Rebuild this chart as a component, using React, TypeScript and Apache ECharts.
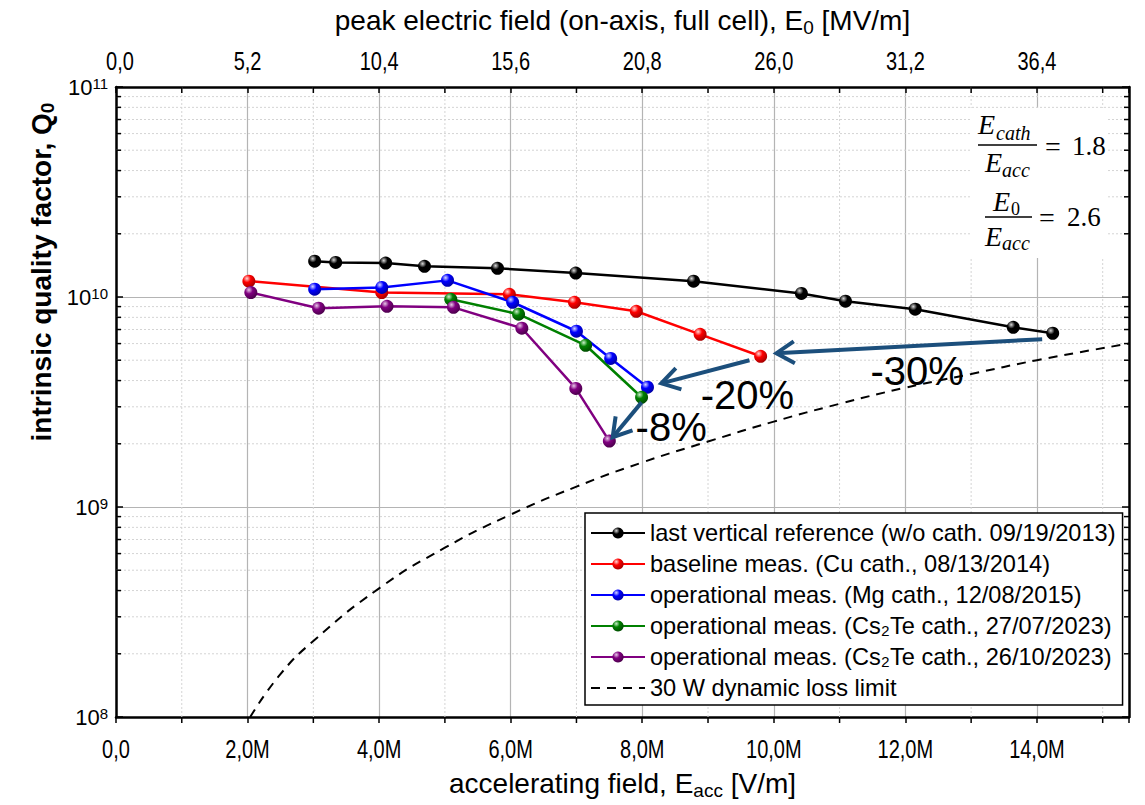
import React, { useEffect, useRef } from 'react';
import * as echarts from 'echarts';

// ---------- data ----------
const X_MIN = 0;
const X_MAX = 15.4; // Eacc in units of 1e6 V/m
const X_STEP = 2;
const E0_RATIO = 2.6;

const refX = [3.02, 3.34, 4.10, 4.69, 5.80, 6.99, 8.78, 10.42, 11.09, 12.15, 13.64, 14.24];
const refQ = [1.48e10, 1.46e10, 1.45e10, 1.40e10, 1.37e10, 1.30e10, 1.19e10, 1.04e10, 9.55e9, 8.75e9, 7.17e9, 6.72e9];

const cuX = [2.02, 4.04, 5.98, 6.97, 7.91, 8.88, 9.80];
const cuQ = [1.19e10, 1.05e10, 1.03e10, 9.44e9, 8.55e9, 6.64e9, 5.22e9];

const mgX = [3.02, 4.04, 5.04, 6.03, 7.00, 7.52, 8.08];
const mgQ = [1.09e10, 1.11e10, 1.20e10, 9.44e9, 6.87e9, 5.10e9, 3.72e9];

const cs1X = [5.09, 6.12, 7.14, 7.99];
const cs1Q = [9.75e9, 8.28e9, 5.89e9, 3.33e9];

const cs2X = [2.05, 3.08, 4.12, 5.13, 6.17, 6.99, 7.50];
const cs2Q = [1.05e10, 8.84e9, 9.03e9, 8.93e9, 7.10e9, 3.67e9, 2.06e9];

const limX = [2.04, 2.5, 3, 4, 5, 6, 7, 8, 9, 10, 11, 12, 13, 14, 15.4];
const limQ = [1.0e8, 1.6e8, 2.3e8, 4.1e8, 6.4e8, 9.2e8, 1.25e9, 1.63e9, 2.05e9, 2.55e9, 3.1e9, 3.7e9, 4.3e9, 5.0e9, 6.0e9];

const seriesNames = [
  'last vertical reference (w/o cath. 09/19/2013)',
  'baseline meas. (Cu cath., 08/13/2014)',
  'operational meas. (Mg cath., 12/08/2015)',
  'operational meas. (Cs\u2082Te cath., 27/07/2023)',
  'operational meas. (Cs\u2082Te cath., 26/10/2023)',
  '30 W dynamic loss limit',
];

// annotation arrows: [x1, q1, x2, q2] and labels
const arrowSegs = [
  [14.08, 6.30e9, 10.04, 5.40e9],
  [9.63, 5.00e9, 8.29, 3.88e9],
  [7.99, 3.15e9, 7.55, 2.15e9],
];
const arrowLabels = ['-30%', '-20%', '-8%'];
const arrowLabelPos = [
  [12.18, 4.42e9],
  [9.60, 3.40e9],
  [8.44, 2.40e9],
];

const decades = [8, 9, 10];
const minorMult = [2, 3, 4, 5, 6, 7, 8, 9];

const SANS = "'Liberation Sans', Arial, sans-serif";
const SERIF = "'Liberation Serif', 'DejaVu Serif', serif";
const ARROW_C = '#1c4f7c';

function ball(c: string, hi: string, dark: string) {
  return new echarts.graphic.RadialGradient(0.35, 0.3, 0.75, [
    { offset: 0, color: hi },
    { offset: 0.4, color: c },
    { offset: 1, color: dark },
  ]);
}

function mkSeries(name: string, xs: number[], qs: number[], color: string, hi: string, dark: string) {
  return {
    name,
    type: 'line',
    data: xs.map((x, i) => [x, qs[i]]),
    symbol: 'circle',
    symbolSize: 13,
    lineStyle: { color, width: 2.5 },
    itemStyle: { color: ball(color, hi, dark), borderWidth: 0 },
    z: 3,
  };
}

const fmtBottom = (v: number) => (v === 0 ? '0,0' : v.toFixed(1).replace('.', ',') + 'M');
const fmtTop = (v: number) => (v * E0_RATIO).toFixed(1).replace('.', ',');

export default function App() {
  const ref = useRef<HTMLDivElement>(null);
  useEffect(() => {
    const chart = echarts.init(ref.current!, null, { renderer: 'svg' });
    const commonX = {
      type: 'value',
      min: X_MIN,
      max: X_MAX,
      interval: X_STEP,
    };
    const titleRich = {
      a: { fontSize: 28, fontFamily: SANS, color: '#000' },
      s: { fontSize: 19, fontFamily: SANS, color: '#000', padding: [14, 0, 0, 0] },
    };
    const option: any = {
      animation: false,
      backgroundColor: '#fff',
      grid: { left: 116, right: 16, top: 87, bottom: 88, containLabel: false },
      legend: {
        orient: 'vertical',
        left: 585,
        top: 513,
        backgroundColor: '#fff',
        borderColor: '#000',
        borderWidth: 1.5,
        borderRadius: 0,
        padding: [8, 7, 5, 5],
        itemGap: 7,
        itemWidth: 54,
        itemHeight: 14,
        textStyle: { fontSize: 23.6, fontFamily: SANS, color: '#000' },
        data: [
          ...seriesNames.slice(0, 5),
          { name: seriesNames[5], itemStyle: { color: 'rgba(0,0,0,0)', borderWidth: 0, opacity: 0 } },
        ],
        selectedMode: false,
      },
      xAxis: [
        {
          ...commonX,
          position: 'bottom',
          name: '{a|accelerating field, E}{s|acc}{a| [V/m]}',
          nameLocation: 'middle',
          nameGap: 50,
          nameTextStyle: { rich: titleRich },
          axisLine: { show: true, onZero: false, lineStyle: { color: '#000', width: 2.5 } },
          axisTick: { show: true, inside: false, length: 6, lineStyle: { color: '#000', width: 1.5 } },
          axisLabel: { show: false },
          splitLine: { show: true, lineStyle: { color: '#b4b4b4', width: 1.2 } },
        },
        {
          ...commonX,
          position: 'top',
          name: '{a|peak electric field (on-axis, full cell), E}{s|0}{a| [MV/m]}',
          nameLocation: 'middle',
          nameGap: 50,
          nameTextStyle: { rich: titleRich },
          axisLine: { show: true, onZero: false, lineStyle: { color: '#000', width: 2.5 } },
          axisTick: { show: true, inside: true, length: 6, lineStyle: { color: '#000', width: 1.5 } },
          axisLabel: { show: false },
          splitLine: { show: false },
        },
      ],
      yAxis: [
        {
          type: 'log',
          logBase: 10,
          min: 1e8,
          max: 1e11,
          position: 'left',
          axisLine: { show: true, onZero: false, lineStyle: { color: '#000', width: 2.5 } },
          axisTick: { show: true, inside: true, length: 7, lineStyle: { color: '#000', width: 1.5 } },
          axisLabel: {
            margin: 8,
            color: '#000',
            formatter: (v: number) => '{b|10}{s|' + String(Math.round(Math.log10(v))) + '}',
            rich: {
              b: { fontSize: 22, fontFamily: SANS, color: '#000' },
              s: { fontSize: 15, fontFamily: SANS, color: '#000', padding: [0, 0, 8, 0] },
            },
          },
          splitLine: { show: true, lineStyle: { color: '#b4b4b4', width: 1.2 } },
        },
        {
          type: 'log',
          logBase: 10,
          min: 1e8,
          max: 1e11,
          position: 'right',
          axisLine: { show: true, onZero: false, lineStyle: { color: '#000', width: 2.5 } },
          axisTick: { show: true, inside: true, length: 7, lineStyle: { color: '#000', width: 1.5 } },
          axisLabel: { show: false },
          splitLine: { show: false },
        },
      ],
      series: [
        mkSeries(seriesNames[0], refX, refQ, '#000000', '#d8d8d8', '#000000'),
        mkSeries(seriesNames[1], cuX, cuQ, '#ff0000', '#ffd6d6', '#a00000'),
        mkSeries(seriesNames[2], mgX, mgQ, '#0000ff', '#d6d6ff', '#0000a0'),
        mkSeries(seriesNames[3], cs1X, cs1Q, '#008000', '#c8eec8', '#004800'),
        mkSeries(seriesNames[4], cs2X, cs2Q, '#800080', '#e8c8e8', '#480048'),
        {
          name: seriesNames[5],
          type: 'line',
          data: limX.map((x, i) => [x, limQ[i]]),
          symbol: 'none',
          smooth: true,
          lineStyle: { color: '#000', width: 2, type: [9, 7] },
          itemStyle: { color: '#000' },
          z: 2,
        },
      ],
    };
    chart.setOption(option);

    const p = (x: number, q: number) => chart.convertToPixel({ xAxisIndex: 0, yAxisIndex: 0 }, [x, q]) as number[];
    const [xl, yb] = p(X_MIN, 1e8);
    const [xr, yt] = p(X_MAX, 1e11);
    const g: any[] = [];

    // condensed tick labels for both x axes
    for (let v = X_MIN; v < X_MAX - 0.5; v += X_STEP) {
      const x = p(v, 1e9)[0];
      const common = { fontSize: 25, fontFamily: SANS, fill: '#000', align: 'center', verticalAlign: 'middle' };
      g.push({ type: 'text', silent: true, z: 12, x, y: yb + 33, scaleX: 0.8, style: { ...common, text: fmtBottom(v) } });
      g.push({ type: 'text', silent: true, z: 12, x: x + (v === 0 ? 4 : 0), y: yt - 25, scaleX: 0.8, style: { ...common, text: fmtTop(v) } });
    }

    // minor log grid lines and ticks
    decades.forEach((d) => {
      minorMult.forEach((m) => {
        const y = p(1, m * Math.pow(10, d))[1];
        g.push({ type: 'line', silent: true, z: 1, shape: { x1: xl, y1: y, x2: xr, y2: y }, style: { stroke: '#d4d4d4', lineWidth: 1, lineDash: [2, 2] } });
        g.push({ type: 'line', silent: true, z: 6, shape: { x1: xl, y1: y, x2: xl + 5, y2: y }, style: { stroke: '#000', lineWidth: 1.5 } });
        g.push({ type: 'line', silent: true, z: 6, shape: { x1: xr - 5, y1: y, x2: xr, y2: y }, style: { stroke: '#000', lineWidth: 1.5 } });
      });
    });
    // minor x grid lines and ticks (odd values)
    for (let v = X_MIN + X_STEP / 2; v < X_MAX; v += X_STEP) {
      const x = p(v, 1e9)[0];
      g.push({ type: 'line', silent: true, z: 1, shape: { x1: x, y1: yt, x2: x, y2: yb }, style: { stroke: '#d4d4d4', lineWidth: 1, lineDash: [2, 2] } });
      g.push({ type: 'line', silent: true, z: 6, shape: { x1: x, y1: yb, x2: x, y2: yb + 6 }, style: { stroke: '#000', lineWidth: 1.5 } });
      g.push({ type: 'line', silent: true, z: 6, shape: { x1: x, y1: yt, x2: x, y2: yt + 6 }, style: { stroke: '#000', lineWidth: 1.5 } });
    }

    // arrows
    arrowSegs.forEach(([x1, q1, x2, q2]) => {
      const [ax, ay] = p(x1, q1);
      const [bx, by] = p(x2, q2);
      const ang = Math.atan2(by - ay, bx - ax);
      const L = 21;
      const sp = 0.55;
      const h1 = [bx - L * Math.cos(ang - sp), by - L * Math.sin(ang - sp)];
      const h2 = [bx - L * Math.cos(ang + sp), by - L * Math.sin(ang + sp)];
      g.push({ type: 'line', silent: true, z: 10, shape: { x1: ax, y1: ay, x2: bx, y2: by }, style: { stroke: ARROW_C, lineWidth: 4 } });
      g.push({ type: 'polyline', silent: true, z: 10, shape: { points: [h1, [bx, by], h2] }, style: { stroke: ARROW_C, lineWidth: 4, fill: null } });
    });
    arrowLabels.forEach((t, i) => {
      const [x, y] = p(arrowLabelPos[i][0], arrowLabelPos[i][1]);
      g.push({ type: 'text', silent: true, z: 11, x, y, style: { text: t, fontSize: 40, fontFamily: SANS, fill: '#000', align: 'center', verticalAlign: 'middle' } });
    });

    // formula box
    const it = (text: string, x: number, y: number, size: number, italic = true) => ({
      type: 'text', silent: true, z: 12, x, y,
      style: { text, fontSize: size, fontStyle: italic ? 'italic' : 'normal', fontFamily: SERIF, fill: '#000', align: 'left', verticalAlign: 'middle' },
    });
    g.push({ type: 'rect', silent: true, z: 11, shape: { x: 970, y: 108, width: 138, height: 150 }, style: { fill: '#fff' } });
    g.push(it('E', 978, 124, 28));
    g.push(it('cath', 996, 133, 20));
    g.push({ type: 'line', silent: true, z: 12, shape: { x1: 978, y1: 145, x2: 1037, y2: 145 }, style: { stroke: '#000', lineWidth: 1.5 } });
    g.push(it('E', 985, 162, 28));
    g.push(it('acc', 1002, 170, 20));
    g.push(it('=', 1045, 146, 28, false));
    g.push(it('1.8', 1072, 146, 27, false));
    g.push(it('E', 993, 201, 28));
    g.push(it('0', 1011, 209, 18, false));
    g.push({ type: 'line', silent: true, z: 12, shape: { x1: 985, y1: 217, x2: 1032, y2: 217 }, style: { stroke: '#000', lineWidth: 1.5 } });
    g.push(it('E', 985, 236, 28));
    g.push(it('acc', 1002, 243, 20));
    g.push(it('=', 1039, 217, 28, false));
    g.push(it('2.6', 1067, 217, 27, false));

    // y axis title
    g.push({
      type: 'text', silent: true, z: 12, x: 41, y: 272, rotation: Math.PI / 2,
      style: {
        text: '{a|intrinsic quality factor, Q}{s|0}',
        align: 'center', verticalAlign: 'middle',
        rich: {
          a: { fontSize: 28, fontWeight: 'bold', fontFamily: SANS, fill: '#000' },
          s: { fontSize: 19, fontWeight: 'bold', fontFamily: SANS, fill: '#000', padding: [12, 0, 0, 0] },
        },
      },
    });

    chart.setOption({ graphic: { elements: g } });
    return () => chart.dispose();
  }, []);
  return <div ref={ref} style={{ position: 'absolute', left: 0, top: 0, width: 1145, height: 805, background: '#fff' }} />;
}
